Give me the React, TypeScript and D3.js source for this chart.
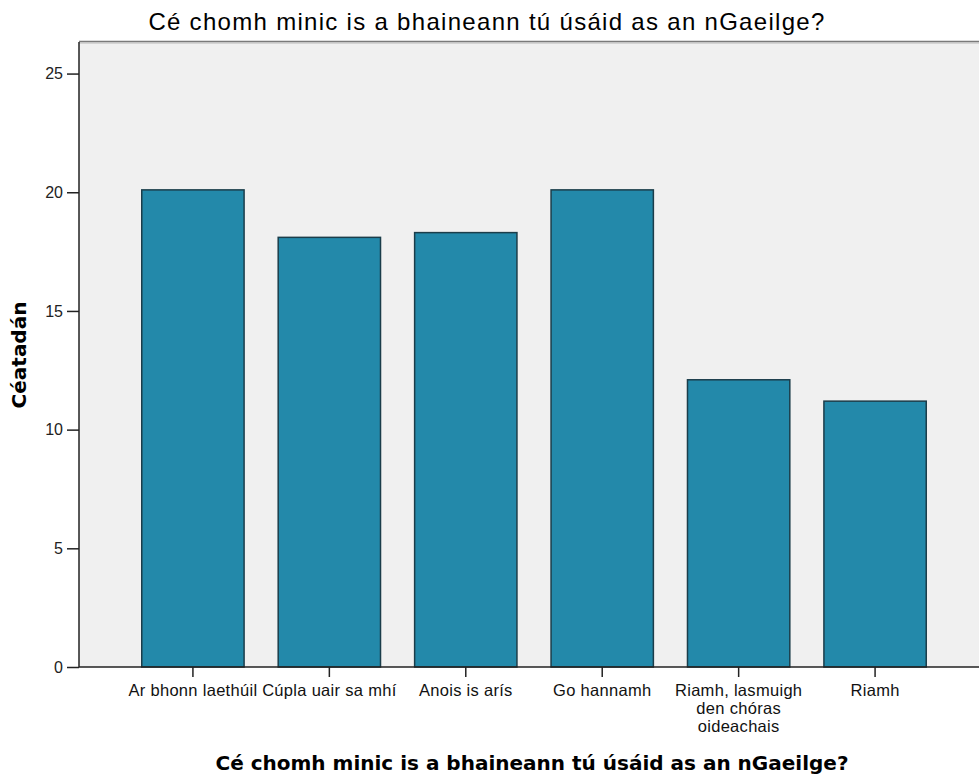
import React, { useEffect, useRef } from 'react';
import * as d3 from 'd3';

// frequency categories (x axis), multi-line labels split by '\n'
const categories: string[] = [
  'Ar bhonn laethúil',
  'Cúpla uair sa mhí',
  'Anois is arís',
  'Go hannamh',
  'Riamh, lasmuigh\nden chóras\noideachais',
  'Riamh'
];

// percentages
const percentages: number[] = [20.1, 18.1, 18.3, 20.1, 12.1, 11.2];

const yTicks: number[] = [0, 5, 10, 15, 20, 25];

const chartTitle = 'Cé chomh minic is a bhaineann tú úsáid as an nGaeilge?';
const xTitle = 'Cé chomh minic is a bhaineann tú úsáid as an nGaeilge?';
const yTitle = 'Céatadán';

const App: React.FC = () => {
  const chartRef = useRef<SVGSVGElement>(null);

  useEffect(() => {
    if (!chartRef.current) return;

    d3.select(chartRef.current).selectAll('*').remove();

    const width = 979;
    const height = 775;
    const plot = { left: 79, top: 42, right: 979, bottom: 667 };

    const svg = d3.select(chartRef.current)
      .attr('width', width)
      .attr('height', height);

    // Scales
    const xScale = d3.scaleBand<string>()
      .domain(categories)
      .range([plot.left, 989])
      .paddingInner(0.25)
      .paddingOuter(0.46);

    const yScale = d3.scaleLinear()
      .domain([0, 26.33])
      .range([plot.bottom, plot.top]);

    // Plot background
    svg.append('rect')
      .attr('x', plot.left)
      .attr('y', plot.top)
      .attr('width', plot.right - plot.left)
      .attr('height', plot.bottom - plot.top)
      .attr('fill', '#f0f0f0');

    // top frame (grey double line)
    svg.append('line')
      .attr('x1', plot.left).attr('x2', plot.right)
      .attr('y1', plot.top - 0.5).attr('y2', plot.top - 0.5)
      .attr('stroke', '#7a7a7a')
      .attr('stroke-width', 1.5);
    svg.append('line')
      .attr('x1', plot.left).attr('x2', plot.right)
      .attr('y1', plot.top + 1).attr('y2', plot.top + 1)
      .attr('stroke', '#b8b8b8')
      .attr('stroke-width', 1);

    // Bars
    svg.append('g')
      .selectAll('rect')
      .data(percentages)
      .enter()
      .append('rect')
      .attr('x', (_, i) => xScale(categories[i]) as number)
      .attr('y', d => yScale(d))
      .attr('width', xScale.bandwidth())
      .attr('height', d => yScale(0) - yScale(d))
      .attr('fill', '#2389aa')
      .attr('stroke', '#1b3d4a')
      .attr('stroke-width', 1.5);

    // Y axis
    const yAxis = d3.axisLeft(yScale)
      .tickValues(yTicks)
      .tickSize(12)
      .tickPadding(4)
      .tickFormat(d => String(d));

    const yG = svg.append('g')
      .attr('transform', `translate(${plot.left},0)`)
      .call(yAxis);
    yG.select('.domain').attr('stroke', '#222').attr('stroke-width', 1.5)
      .attr('d', `M0,${plot.top}V${plot.bottom}`);
    yG.selectAll('.tick line').attr('stroke', '#222').attr('stroke-width', 1.5);
    yG.selectAll('.tick text')
      .attr('fill', '#222')
      .style('font-family', '"Liberation Sans", Arial, sans-serif')
      .style('font-size', '16px');

    // X axis
    const xAxis = d3.axisBottom(xScale)
      .tickSize(10)
      .tickPadding(0)
      .tickFormat(() => '');

    const xG = svg.append('g')
      .attr('transform', `translate(0,${plot.bottom})`)
      .call(xAxis);
    xG.select('.domain').attr('stroke', '#222').attr('stroke-width', 1.5)
      .attr('d', `M${plot.left},0H${plot.right}`);
    xG.selectAll('.tick line').attr('stroke', '#222').attr('stroke-width', 1.5);

    // multi-line category labels
    xG.selectAll('.tick text').remove();
    xG.selectAll('.tick')
      .append('text')
      .attr('text-anchor', 'middle')
      .attr('fill', '#111')
      .style('font-family', '"Liberation Sans", Arial, sans-serif')
      .style('font-size', '16.5px')
      .style('letter-spacing', '0.3px')
      .each(function(d) {
        const lines = String(d).split('\n');
        const t = d3.select(this);
        lines.forEach((ln, i) => {
          t.append('tspan')
            .attr('x', 0)
            .attr('y', 29 + i * 18)
            .text(ln);
        });
      });

    // Chart title
    svg.append('text')
      .attr('x', 487)
      .attr('y', 30)
      .attr('text-anchor', 'middle')
      .attr('fill', '#000')
      .style('font-family', '"Liberation Sans", Arial, sans-serif')
      .style('font-size', '24px')
      .style('letter-spacing', '1.3px')
      .text(chartTitle);

    // Axis titles
    svg.append('text')
      .attr('x', 532)
      .attr('y', 770)
      .attr('text-anchor', 'middle')
      .attr('fill', '#000')
      .style('font-family', '"DejaVu Sans", sans-serif')
      .style('font-weight', 'bold')
      .style('font-size', '20px')
      .text(xTitle);

    svg.append('text')
      .attr('transform', 'rotate(-90)')
      .attr('x', -355)
      .attr('y', 26)
      .attr('text-anchor', 'middle')
      .attr('fill', '#000')
      .style('font-family', '"DejaVu Sans", sans-serif')
      .style('font-weight', 'bold')
      .style('font-size', '20px')
      .text(yTitle);
  }, []);

  return (
    <div style={{ position: 'absolute', left: 0, top: 0, width: 979, height: 775, background: '#fff' }}>
      <svg ref={chartRef} style={{ display: 'block' }}></svg>
    </div>
  );
};

export default App;
